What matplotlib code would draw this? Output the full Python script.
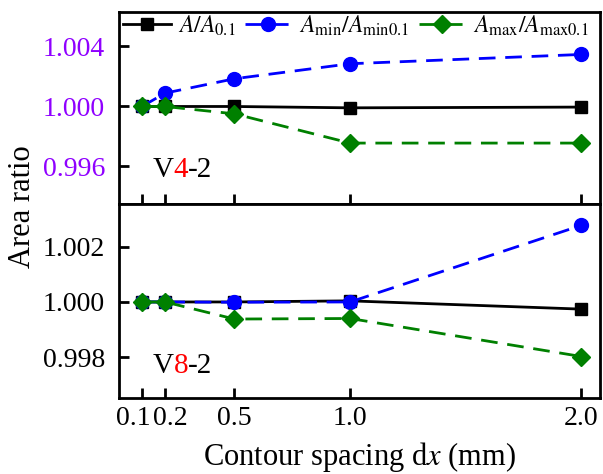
import numpy as np
import matplotlib
matplotlib.use('Agg')
import matplotlib.pyplot as plt
import matplotlib.transforms as mtransforms

plt.rcParams['font.family'] = 'Liberation Serif'
plt.rcParams['mathtext.fontset'] = 'stix'

# data
dx = [0.1, 0.2, 0.5, 1.0, 2.0]
xtick_labels = ['0.1', '0.2', '0.5', '1.0', '2.0']

# V4-2
a_v4 = [1.0, 1.0, 1.0, 0.99991, 0.99996]
amin_v4 = [1.0, 1.00089, 1.00185, 1.00285, 1.00347]
amax_v4 = [1.0, 1.0, 0.99951, 0.99756, 0.99756]

# V8-2
a_v8 = [1.0, 1.0, 1.0, 1.00004, 0.99974]
amin_v8 = [1.0, 1.0, 0.99999, 1.0, 1.00278]
amax_v8 = [1.0, 1.0, 0.99938, 0.99940, 0.99802]

labels = [r'$A/A_{0.1}$', r'$A_{\mathrm{min}}/A_{\mathrm{min0.1}}$',
          r'$A_{\mathrm{max}}/A_{\mathrm{max0.1}}$']

fig = plt.figure(figsize=(6.03, 4.74), dpi=100)
ax1 = fig.add_axes([0.197, 0.570, 0.798, 0.405])
ax2 = fig.add_axes([0.197, 0.160, 0.798, 0.410])

def draw(ax, a, amin, amax):
    ax.plot(dx, a, '-', color='black', lw=2, marker='s', ms=9, label=labels[0])
    ax.plot(dx, amin, '--', color='blue', lw=2, marker='o', ms=10,
            dashes=(6, 3.5), label=labels[1])
    ax.plot(dx, amax, '--', color='green', lw=2, marker='D', ms=9,
            dashes=(6, 3.5), label=labels[2])
    ax.set_xlim(0, 2.08)
    ax.set_xticks(dx)
    ax.tick_params(direction='in', length=7, width=2, labelsize=20)
    ax.tick_params(axis='y', pad=10)
    ax.tick_params(axis='x', pad=6)
    for s in ax.spines.values():
        s.set_linewidth(2)

draw(ax1, a_v4, amin_v4, amax_v4)
draw(ax2, a_v8, amin_v8, amax_v8)

ax1.set_ylim(0.99351, 1.00631)
ax1.set_yticks([0.996, 1.000, 1.004])
ax1.set_yticklabels(['0.996', '1.000', '1.004'], color='#8F00FF')
ax1.tick_params(axis='x', labelbottom=False)

ax2.set_ylim(0.99651, 1.00356)
ax2.set_yticks([0.998, 1.000, 1.002])
ax2.set_yticklabels(['0.998', '1.000', '1.002'])
ax2.set_xticklabels(xtick_labels)
# push the crowded 0.1 / 0.2 labels apart
tl = ax2.get_xticklabels()
tl[0].set_transform(tl[0].get_transform() + mtransforms.ScaledTranslation(-6/72, 0, fig.dpi_scale_trans))
tl[1].set_transform(tl[1].get_transform() + mtransforms.ScaledTranslation(4/72, 0, fig.dpi_scale_trans))

ax1.legend(loc='upper left', ncol=3, frameon=False, fontsize=17,
           handlelength=2.0, handletextpad=0.3, columnspacing=0.4,
           borderaxespad=0.0, bbox_to_anchor=(-0.01, 1.04))

fig.text(0.037, 0.565, 'Area ratio', rotation=90, ha='center', va='center', fontsize=22)
ax2.set_xlabel(r'Contour spacing d$x$ (mm)', fontsize=22, labelpad=6)

# panel labels with a red digit
def tag(ax, x, y, parts):
    fig.canvas.draw()
    r = fig.canvas.get_renderer()
    t = ax.text(x, y, parts[0][0], color=parts[0][1], fontsize=21,
                transform=ax.transAxes, va='baseline')
    for txt, col in parts[1:]:
        t.draw(r)
        t = ax.annotate(txt, xy=(1, 0), xycoords=t, color=col, fontsize=21,
                        va='bottom')

tag(ax1, 0.07, 0.14, [('V', 'black'), ('4', 'red'), ('-2', 'black')])
tag(ax2, 0.07, 0.13, [('V', 'black'), ('8', 'red'), ('-2', 'black')])

fig.savefig('out.png', dpi=100)
